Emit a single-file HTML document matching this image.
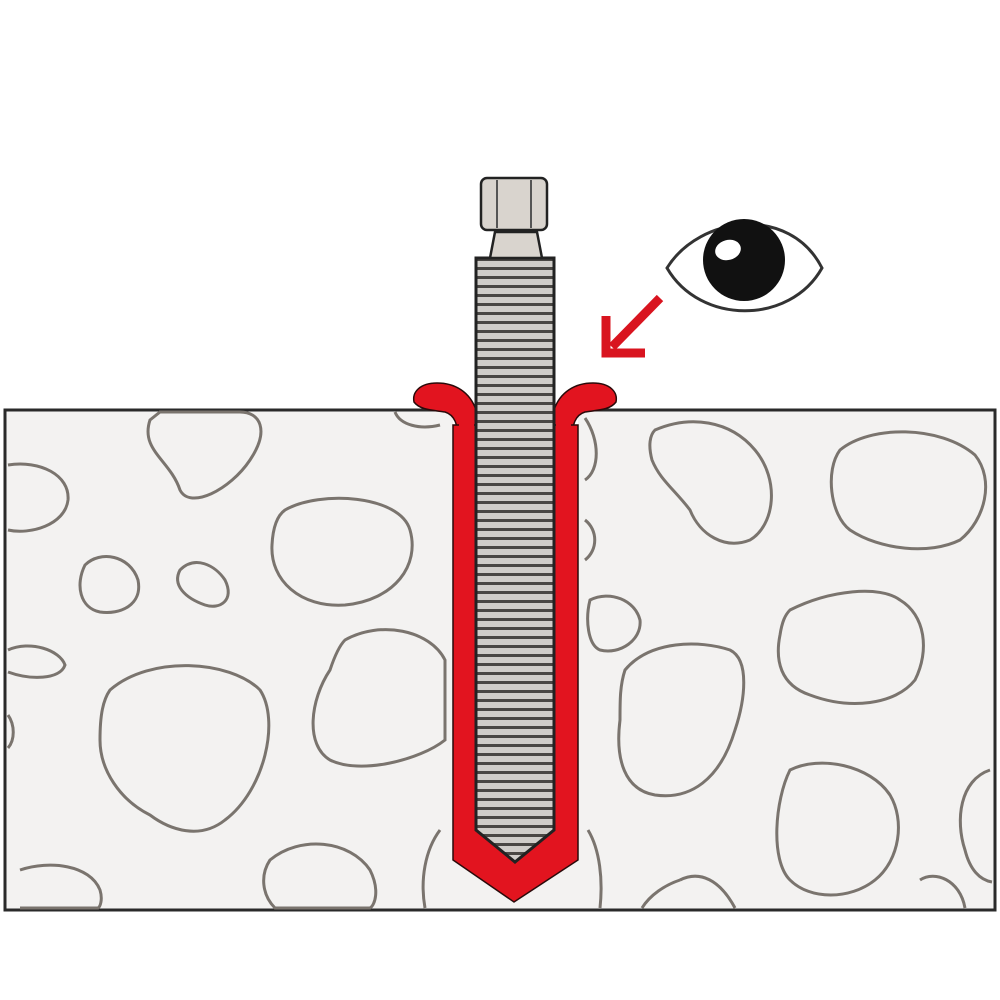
<!DOCTYPE html>
<html><head><meta charset="utf-8"><style>html,body{margin:0;padding:0;background:#fff}svg{display:block}</style></head>
<body>
<svg width="1000" height="1000" viewBox="0 0 1000 1000" xmlns="http://www.w3.org/2000/svg">
<defs>
<pattern id="thr" x="0" y="258" width="10" height="9" patternUnits="userSpaceOnUse">
<rect width="10" height="9" fill="#d0cdc9"/>
<rect y="0" width="10" height="3" fill="#4a4744"/>
</pattern>
</defs>
<rect x="0" y="0" width="1000" height="1000" fill="#fff"/>
<rect x="5" y="410" width="990" height="500" fill="#f3f2f1" stroke="#2a2a2a" stroke-width="3"/>
<g fill="none" stroke="#7a746e" stroke-width="3">
<path d="M150 420 C140 450 170 460 180 490 C190 510 230 490 250 460 C270 430 260 412 240 412 L160 412 Z"/>
<path d="M8 465 C40 460 70 475 68 500 C65 525 30 535 8 530"/>
<path d="M285 510 C320 490 400 495 410 530 C420 565 395 600 345 605 C300 608 270 580 272 545 C273 525 278 515 285 510 Z"/>
<path d="M85 565 C100 550 130 555 138 580 C143 605 120 615 100 612 C80 608 75 585 85 565 Z"/>
<path d="M180 570 C195 555 215 565 225 580 C235 600 220 610 205 605 C185 598 172 585 180 570 Z"/>
<path d="M8 650 C30 640 60 650 65 665 C60 680 30 680 8 672"/>
<path d="M110 690 C150 655 230 660 260 690 C280 720 265 790 225 820 C200 840 170 830 150 815 C120 800 100 770 100 740 C100 715 103 700 110 690 Z"/>
<path d="M345 640 C380 620 430 630 445 660 L445 740 C420 760 360 775 330 760 C305 745 310 700 330 670 C335 655 340 645 345 640 Z"/>
<path d="M8 715 C15 725 15 740 8 748"/>
<path d="M270 860 C300 835 350 840 370 870 C380 890 375 905 370 908 L275 908 C262 895 260 875 270 860 Z"/>
<path d="M20 870 C50 860 90 865 100 890 C103 900 100 907 98 908 L20 908"/>
<path d="M440 830 C425 850 420 880 425 908 M588 830 C600 850 603 880 600 908"/>
<path d="M585 418 C600 440 600 470 585 480"/>
<path d="M585 520 C598 530 598 550 585 560"/>
<path d="M590 600 C610 590 635 600 640 620 C642 640 620 655 600 650 C588 645 585 620 590 600 Z"/>
<path d="M655 430 C690 415 730 420 755 450 C780 480 775 525 750 540 C725 550 700 535 690 510 C675 490 660 480 652 460 C648 445 650 435 655 430 Z"/>
<path d="M840 450 C870 425 940 425 975 455 C995 480 985 520 960 540 C930 555 880 550 850 530 C830 515 825 470 840 450 Z"/>
<path d="M625 670 C650 640 700 640 730 650 C750 660 745 700 735 730 C720 780 690 800 655 795 C625 790 615 760 620 720 C620 700 620 685 625 670 Z"/>
<path d="M790 610 C830 590 880 585 900 600 C925 615 930 650 915 680 C895 705 850 710 810 695 C780 685 775 660 780 635 C782 622 785 615 790 610 Z"/>
<path d="M790 770 C820 755 870 765 890 795 C905 820 900 860 875 880 C850 900 810 900 790 880 C770 860 775 800 790 770 Z"/>
<path d="M990 770 C960 780 955 820 965 850 C970 870 980 880 992 882"/>
<path d="M680 880 C700 870 720 880 735 908 M642 908 C650 895 665 885 680 880"/>
<path d="M920 880 C935 870 960 880 965 908"/>
<path d="M395 412 C400 425 420 430 440 425"/>
</g>
<rect x="453" y="410" width="125" height="450" fill="#fff"/>
<path d="M476 410 C470 392 455 383 437 383 C420 383 412 392 414 402 C420 410 432 410 445 412 C455 415 458 425 458 440 L476 440 Z" fill="#e2141f" stroke="#2a0a0a" stroke-width="1.5"/>
<path d="M554 410 C560 392 575 383 593 383 C610 383 618 392 616 402 C610 410 598 410 585 412 C575 415 572 425 572 440 L554 440 Z" fill="#e2141f" stroke="#2a0a0a" stroke-width="1.5"/>
<path d="M453 425 L453 860 L514 902 L578 860 L578 425 L554 425 L554 830 L515 862 L476 830 L476 425 Z" fill="#e2141f" stroke="#2a0a0a" stroke-width="1.5"/>
<rect x="459" y="418" width="15" height="30" fill="#e2141f"/>
<rect x="556" y="418" width="15" height="30" fill="#e2141f"/>
<path d="M476 258 L554 258 L554 830 L515 862 L476 830 Z" fill="url(#thr)" stroke="#222" stroke-width="3"/>
<path d="M490 258 L495 232 L537 232 L542 258 Z" fill="#d9d4ce" stroke="#222" stroke-width="2.5"/>
<rect x="481" y="178" width="66" height="52" rx="6" fill="#d9d4ce" stroke="#222" stroke-width="2.5"/>
<line x1="497" y1="180" x2="497" y2="228" stroke="#555" stroke-width="2"/>
<line x1="531" y1="180" x2="531" y2="228" stroke="#555" stroke-width="2"/>
<path d="M667 268 C700 215 790 205 822 268 C790 325 700 325 667 268 Z" fill="#fff" stroke="#333" stroke-width="3"/>
<circle cx="744" cy="260" r="41" fill="#111"/>
<ellipse cx="728" cy="250" rx="13" ry="10" fill="#fff" transform="rotate(-15 728 250)"/>
<g stroke="#d9141f" stroke-width="9" fill="none">
<line x1="660" y1="298" x2="612" y2="347"/>
<polyline points="606,316 606,353 645,353"/>
</g>
</svg>
</body></html>
